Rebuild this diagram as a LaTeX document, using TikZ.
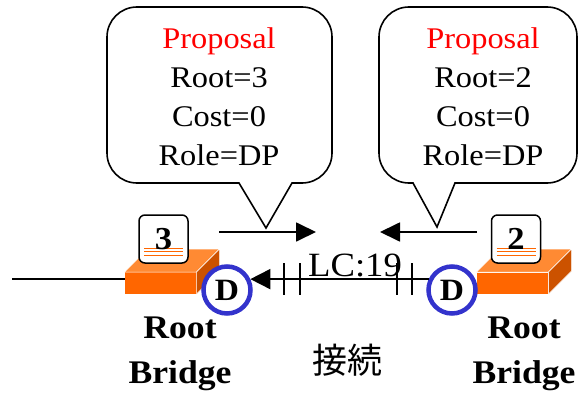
\documentclass[tikz,border=0pt]{standalone}
\usepackage{fontspec}
\setmainfont{Liberation Serif}[FakeStretch=1.08]
\newfontfamily\cjkfont{Noto Sans CJK JP}
\usetikzlibrary{arrows.meta}

\definecolor{bridgefront}{HTML}{FF6600}
\definecolor{bridgetop}{HTML}{FF8A33}
\definecolor{bridgeside}{HTML}{CC5200}
\definecolor{portblue}{HTML}{3333CC}

\tikzset{
  callout/.style={line width=1.6pt, fill=white, line join=miter},
  callouttext/.style={align=center, inner sep=0pt, font=\fontsize{30}{39}\selectfont},
  msgarrow/.style={line width=1.8pt, -{Triangle[length=20pt,width=19pt]}},
  wire/.style={line width=1.6pt},
  linkarrow/.style={line width=1.8pt, -{Triangle[length=20pt,width=20pt]}},
  breakmark/.style={line width=1.6pt},
  frontface/.style={fill=bridgefront, draw=white, line width=0.5pt, minimum width=72pt,
                    minimum height=22pt, inner sep=0pt, outer sep=0pt},
  topface/.style={fill=bridgetop, draw=white, line width=0.5pt},
  sideface/.style={fill=bridgeside, draw=white, line width=0.5pt},
  idbox/.style={draw, line width=1.5pt, rounded corners=6pt, fill=white,
                minimum width=49pt, minimum height=48pt, inner sep=0pt,
                font=\fontsize{32}{32}\selectfont\bfseries,
                path picture={
                  \foreach \h in {8,11.5,15}
                    \draw[bridgefront, line width=0.7pt]
                      ([shift={(5pt,\h pt)}]path picture bounding box.south west) --
                      ([shift={(-5pt,\h pt)}]path picture bounding box.south east);
                }},
  port/.style={circle, draw=portblue, line width=4.5pt, fill=white, minimum size=47pt,
               inner sep=0pt, font=\fontsize{31}{31}\selectfont\bfseries},
  bridgelabel/.style={align=center, inner sep=0pt, anchor=north,
                      font=\fontsize{33}{45}\selectfont\bfseries},
}

\begin{document}
\begin{tikzpicture}[x=1pt, y=-1pt]
  \useasboundingbox (0,0) rectangle (580,393);

  % speech bubbles carrying the proposals
  \draw[callout] (266,228) -- (239,183) -- (137,183)
    .. controls (120.4,183) and (107,169.6) .. (107,153) -- (107,37)
    .. controls (107,20.4) and (120.4,7) .. (137,7) -- (302,7)
    .. controls (318.6,7) and (332,20.4) .. (332,37) -- (332,153)
    .. controls (332,169.6) and (318.6,183) .. (302,183) -- (292,183) -- cycle;
  \draw[callout] (437,227) -- (413,183) -- (409,183)
    .. controls (392.4,183) and (379,169.6) .. (379,153) -- (379,37)
    .. controls (379,20.4) and (392.4,7) .. (409,7) -- (547,7)
    .. controls (563.6,7) and (577,20.4) .. (577,37) -- (577,153)
    .. controls (577,169.6) and (563.6,183) .. (547,183) -- (455,183) -- cycle;

  \node[callouttext, anchor=north] (propL) at (219,27)
    {\textcolor{red}{Proposal}\\Root=3\\Cost=0\\Role=DP};
  \node[callouttext, anchor=north] (propR) at (483,27)
    {\textcolor{red}{Proposal}\\Root=2\\Cost=0\\Role=DP};

  % direction of each proposal
  \coordinate (msgLs) at (219,232);
  \coordinate (msgLe) at (316,232);
  \coordinate (msgRs) at (477,232);
  \coordinate (msgRe) at (380,232);
  \draw[msgarrow] (msgLs) -- (msgLe);
  \draw[msgarrow] (msgRs) -- (msgRe);

  % left bridge
  \node[frontface] (bL) at (160.5,283) {};
  \coordinate (wireL) at (12,279);
  \draw[wire] (wireL) -- (wireL -| bL.west);
  \fill[bridgefront] (bL.south west) rectangle (bL.north east);
  \draw[topface] (bL.north west) -- (bL.north east) -- ++(23,-23) -- ++(-72,0) -- cycle;
  \draw[sideface] (bL.north east) -- ++(23,-23) -- ++(0,22) -- (bL.south east) -- cycle;
  \node[idbox] (idL) at (163.5,239) {3};

  % right bridge
  \node[frontface] (bR) at (512.5,283) {};
  \draw[topface] (bR.north west) -- (bR.north east) -- ++(23,-23) -- ++(-72,0) -- cycle;
  \draw[sideface] (bR.north east) -- ++(23,-23) -- ++(0,22) -- (bR.south east) -- cycle;
  \node[idbox] (idR) at (516,239) {2};

  % designated ports and the link between them
  \node[port] (dL) at (227,290) {D};
  \node[port] (dR) at (452,290) {D};
  \draw[linkarrow] (dR.155) -- (dL.25);
  \foreach \x in {284,300,397,412}
    \draw[breakmark] (\x,263) -- (\x,295);
  \node[inner sep=0pt, anchor=base, font=\fontsize{34}{34}\selectfont] (lc) at (355,276) {LC:19};

  % captions
  \node[bridgelabel] (rootL) at (180,317) {Root\\Bridge};
  \node[bridgelabel] (rootR) at (524,317) {Root\\Bridge};
  \node[inner sep=0pt, font=\cjkfont\fontsize{35}{35}\selectfont] (conn) at (347,360) {接続};
\end{tikzpicture}
\end{document}
